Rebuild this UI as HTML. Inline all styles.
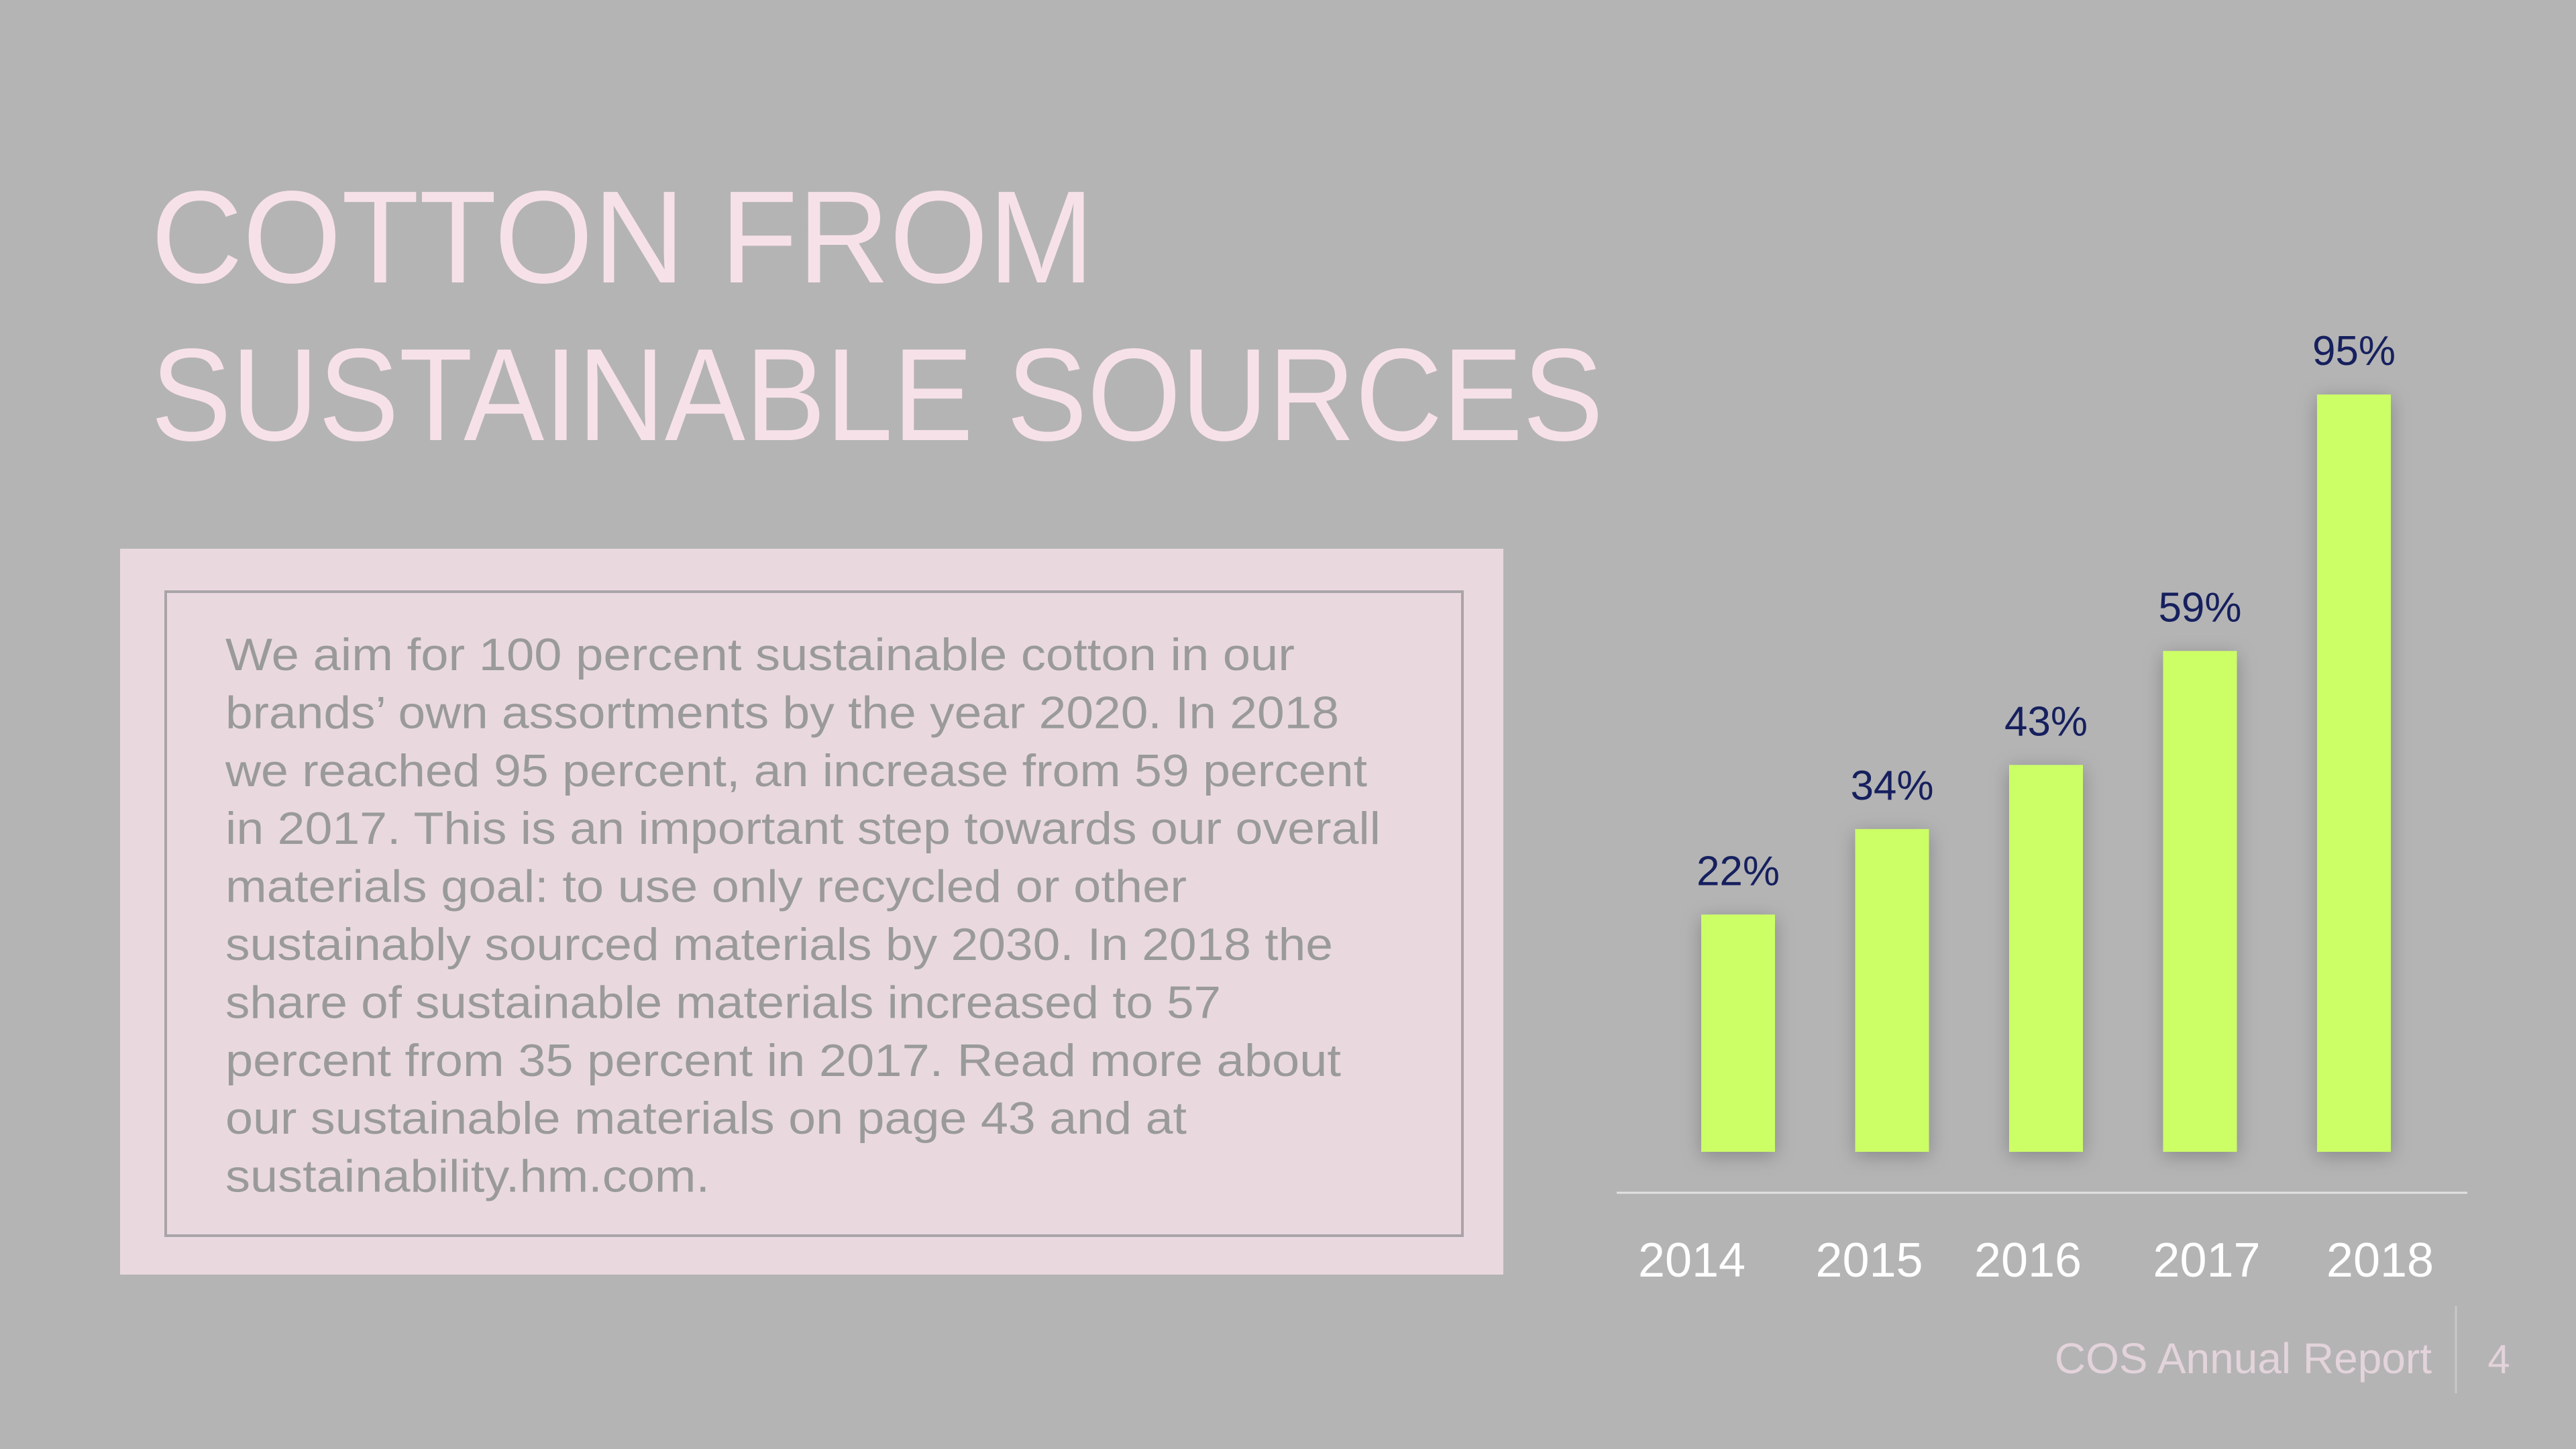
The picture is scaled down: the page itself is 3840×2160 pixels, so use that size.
<!DOCTYPE html>
<html><head><meta charset="utf-8"><style>
html,body{margin:0;padding:0;background:#b4b4b4;}
svg{display:block;font-family:"Liberation Sans",sans-serif;}
</style></head><body>
<svg id="s" width="3840" height="2160" viewBox="0 0 3840 2160">
<defs><filter id="sh" x="-50%" y="-20%" width="200%" height="140%"><feDropShadow dx="0" dy="6" stdDeviation="14" flood-color="#000" flood-opacity="0.25"/></filter></defs>
<rect width="3840" height="2160" fill="#b4b4b4"/>
<g fill="#f7e1e8" font-size="196">
<text x="225" y="421" textLength="1406" lengthAdjust="spacingAndGlyphs">COTTON FROM</text>
<text x="225" y="656" textLength="2165" lengthAdjust="spacingAndGlyphs">SUSTAINABLE SOURCES</text>
</g>
<rect x="179" y="818" width="2062" height="1082" fill="#e9d9df"/>
<rect x="247" y="882" width="1933" height="960" fill="none" stroke="#a9a4a7" stroke-width="4"/>
<g id="body" fill="#9a9a9a" font-size="68"></g>
<g id="chart"></g>
<g>
<text x="3625" y="2047" text-anchor="end" font-size="64" fill="#e3d3da">COS Annual Report</text>
<line x1="3661" y1="1947" x2="3661" y2="2077" stroke="#c8c8c8" stroke-width="3"/>
<text x="3725" y="2047" text-anchor="middle" font-size="60" fill="#e3d3da">4</text>
</g>
</svg>
<script>
const categories = ["2014","2015","2016","2017","2018"];
const values = [22,34,43,59,95];
const valueLabels = ["22%","34%","43%","59%","95%"];

const NS="http://www.w3.org/2000/svg";
function mk(tag,attrs,parent){const e=document.createElementNS(NS,tag);for(const k in attrs)e.setAttribute(k,attrs[k]);parent.appendChild(e);return e;}

const lines=["We aim for 100 percent sustainable cotton in our","brands\u2019 own assortments by the year 2020. In 2018","we reached 95 percent, an increase from 59 percent","in 2017. This is an important step towards our overall","materials goal: to use only recycled or other","sustainably sourced materials by 2030. In 2018 the","share of sustainable materials increased to 57","percent from 35 percent in 2017. Read more about","our sustainable materials on page 43 and at","sustainability.hm.com."];
const ends=[788,815,832,840,722,811,743,816,722,432];
const body=document.getElementById('body');
lines.forEach((l,i)=>{
  const t=mk('text',{x:336,y:999+i*86.4,textLength:((ends[i]-137)*2.449).toFixed(0),lengthAdjust:'spacingAndGlyphs'},body);
  t.textContent=l;
  
  
});

const chart=document.getElementById('chart');
const baseY=1717, vmin=-11.3, pxPer=10.62;
function y(v){return baseY-(v-vmin)*pxPer;}
const x0=2591, step=229.5, bw=110;
function xc(i){return x0+i*step;}
const yearOffsets=[-69,-34,-27,10,39];
const axis=mk('line',{x1:2410,y1:1778,x2:3678,y2:1778,stroke:'#e2e2e2','stroke-width':3},chart);


categories.forEach((c,i)=>{
  const top=y(values[i]);
  const r=mk('rect',{x:xc(i)-bw/2,y:top,width:bw,height:baseY-top,fill:'#ccff66',filter:'url(#sh)'},chart);
  
  
  const lt=mk('text',{x:xc(i),y:top-44,'text-anchor':'middle','font-size':62,fill:'#16205e'},chart);
  lt.textContent=valueLabels[i];
  
  
  const yt=mk('text',{x:xc(i)+yearOffsets[i],y:1903,'text-anchor':'middle','font-size':72,fill:'#ffffff'},chart);
  yt.textContent=c;
  
  
});
</script>
</body></html>
